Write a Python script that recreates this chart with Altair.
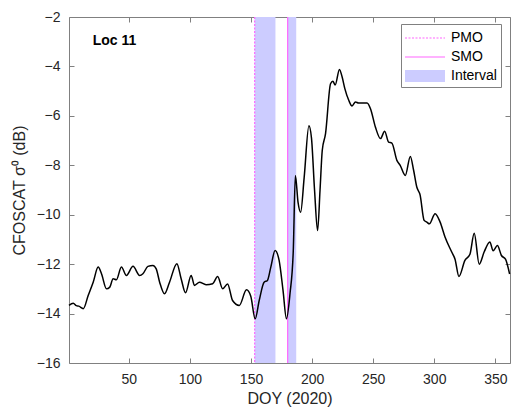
import altair as alt
import pandas as pd

# ---- data ----
days = [1, 4.5, 7, 9, 12.7, 16.7, 20.8, 24.9, 27.6, 31.7, 34.4, 37.1, 39.8, 43.9, 48,
        53.4, 58.8, 61.5, 65.6, 69.7, 72.4, 75.2, 79.2, 83.3, 89.3, 92.8, 96.4, 101,
        103.7, 107.8, 113.2, 118.6, 122.7, 126.8, 130.8, 134.9, 140.4, 146.3, 149.8,
        153.4, 156.7, 160.7, 163.4, 166.2, 169.7, 173, 176.2, 179, 181.9, 184.6, 186.3,
        188.5, 190.6, 193.5, 197.4, 199.5, 202, 204.5, 206.5, 208.3, 211, 215.1, 217,
        218.9, 222.4, 224.6, 226.8, 230, 232.7, 235.5, 238, 245, 247.8, 251.8, 256,
        259.4, 262.6, 265.3, 269.4, 272.1, 276.3, 280.4, 283.1, 285.7, 288.4, 291.7,
        293.9, 296, 300.7, 304.8, 308.8, 314.2, 317, 320.2, 325.1, 329.2, 332.7, 336.8,
        340.9, 345.5, 348.2, 351.7, 355, 358.3, 361.7]
sigma0 = [-13.67, -13.58, -13.68, -13.7, -13.8, -13.27, -12.73, -12.12, -12.39, -13.0,
          -12.93, -12.59, -12.63, -12.12, -12.46, -12.09, -12.46, -12.39, -12.09, -12.05,
          -12.19, -12.73, -13.2, -12.73, -11.98, -12.59, -13.16, -12.46, -12.86, -12.73,
          -12.83, -12.79, -12.5, -13.0, -12.8, -13.47, -13.67, -13.04, -13.3, -14.21,
          -13.47, -12.73, -12.66, -12.12, -11.45, -11.85, -13.06, -14.21, -13.2, -11.45,
          -8.41, -9.5, -9.9, -8.5, -6.4, -6.9, -9.0, -10.64, -9.0, -7.4, -6.72, -4.7,
          -4.6, -4.75, -4.12, -4.43, -4.9, -5.37, -5.6, -5.44, -5.48, -5.48, -5.71,
          -6.45, -6.92, -6.62, -7.06, -7.1, -7.8, -8.0, -8.41, -7.64, -8.2, -8.88, -9.2,
          -10.23, -10.3, -10.37, -9.96, -10.3, -10.9, -11.5, -11.8, -12.5, -11.85, -11.6,
          -10.75, -12.0, -11.5, -11.1, -11.46, -11.25, -11.65, -11.8, -12.4]

onset_kinds = ["PMO", "SMO"]
onset_days = [153, 180]
interval_start = [153, 180]
interval_end = [170, 187]

legend_labels = ["PMO", "SMO", "Interval"]
legend_colors = ["#FF66FF", "#FF66FF", "#CCCCFF"]

x_ticks = [50, 100, 150, 200, 250, 300, 350]
y_ticks = [-16, -14, -12, -10, -8, -6, -4, -2]
x_domain = [1, 362]
y_domain = [-16, -2]

loc_label = ["Loc 11"]
loc_x = [20.4]
loc_y = [-2.97]

# ---- tables ----
series = pd.DataFrame({"day": days, "sigma0": sigma0})
onsets = pd.DataFrame({"day": onset_days, "kind": onset_kinds})
bands = pd.DataFrame({"start": interval_start, "end": interval_end})
note = pd.DataFrame({"x": loc_x, "y": loc_y, "t": loc_label})

# ---- legend swatch shapes (unit path, x from -1 to 3) ----
def rect_path(x0, x1, h):
    return f"M{x0:.3f},{-h:.3f}H{x1:.3f}V{h:.3f}H{x0:.3f}Z"

def dashed_path(dash=0.2, gap=0.15, h=0.06):
    parts, x = [], -1.0
    while x < 3.0:
        parts.append(rect_path(x, min(x + dash, 3.0), h))
        x += dash + gap
    return "".join(parts)

legend_shapes = [dashed_path(), rect_path(-1, 3, 0.06), rect_path(-1, 3, 0.6)]

FONT = "Liberation Sans"
AX = "#262626"
xs = alt.Scale(domain=x_domain, nice=False, zero=False)
ys = alt.Scale(domain=y_domain, nice=False, zero=False)

band_layer = alt.Chart(bands).mark_rect(color="#CCCCFF", opacity=1).encode(
    x=alt.X("start:Q", scale=xs, axis=None),
    x2="end:Q",
)

pmo_layer = alt.Chart(onsets).transform_filter(alt.datum.kind == "PMO").mark_rule(
    color="#FF66FF", strokeWidth=1.2, strokeDash=[2, 1.5]).encode(
    x=alt.X("day:Q", scale=xs, axis=None))

smo_layer = alt.Chart(onsets).transform_filter(alt.datum.kind == "SMO").mark_rule(
    color="#FF66FF", strokeWidth=1.2).encode(
    x=alt.X("day:Q", scale=xs, axis=None))

legend_layer = alt.Chart(onsets).mark_point(filled=True, size=400, opacity=1,
                                            clip=True, strokeWidth=0).encode(
    x=alt.X("day:Q", scale=xs, axis=None),
    y=alt.YDatum(-40, scale=ys, axis=None),
    color=alt.Color("kind:N", scale=alt.Scale(domain=legend_labels, range=legend_colors),
                    legend=alt.Legend(title=None)),
    shape=alt.Shape("kind:N", scale=alt.Scale(domain=legend_labels, range=legend_shapes),
                    legend=alt.Legend(title=None)),
)

line_layer = alt.Chart(series).mark_line(color="black", strokeWidth=1.5,
                                         interpolate="monotone").encode(
    x=alt.X("day:Q", scale=xs, axis=alt.Axis(
        values=x_ticks, orient="bottom", offset=-5, tickSize=5, domain=False,
        grid=False, title="DOY (2020)", labelPadding=9, titlePadding=4)),
    y=alt.Y("sigma0:Q", scale=ys, axis=alt.Axis(
        values=y_ticks, orient="left", offset=-5, tickSize=5, domain=False,
        grid=False, title="CFOSCAT σ⁰ (dB)", labelPadding=9, titlePadding=9)),
)

frame_layer = alt.Chart(series).mark_line(opacity=0).encode(
    x=alt.X("day:Q", scale=xs, axis=alt.Axis(
        values=x_ticks, orient="top", offset=-5, tickSize=5, domain=False,
        grid=False, labels=False, title=None)),
    y=alt.Y("sigma0:Q", scale=ys, axis=alt.Axis(
        values=y_ticks, orient="right", offset=-5, tickSize=5, domain=False,
        grid=False, labels=False, title=None)),
)

note_layer = alt.Chart(note).mark_text(
    align="left", baseline="middle", fontWeight="bold", fontSize=14, font=FONT,
    color="black").encode(
    x=alt.X("x:Q", scale=xs, axis=None),
    y=alt.Y("y:Q", scale=ys, axis=None),
    text="t:N",
)

chart = alt.layer(band_layer, pmo_layer, smo_layer, line_layer, frame_layer,
                  note_layer, legend_layer).resolve_axis(
    x="independent", y="independent"
).properties(
    width=441, height=346,
    autosize=alt.AutoSizeParams(type="none"),
    padding={"left": 69, "top": 17, "right": 2, "bottom": 51},
).configure_view(
    stroke="#808080", strokeWidth=1
).configure_axis(
    labelFont=FONT, titleFont=FONT, labelFontSize=14, titleFontSize=16,
    labelColor=AX, titleColor=AX, tickColor="#808080", titleFontWeight="normal",
    tickWidth=1,
).configure_legend(
    orient="none", legendX=332, legendY=7,
    labelFont=FONT, labelFontSize=14, labelColor="black",
    strokeColor="#808080", fillColor="white", padding=4, symbolSize=400,
    rowPadding=2, labelOffset=26, symbolStrokeWidth=0, symbolOpacity=1,
)

chart.save("out.html", embed_options={"renderer": "svg", "actions": False})
